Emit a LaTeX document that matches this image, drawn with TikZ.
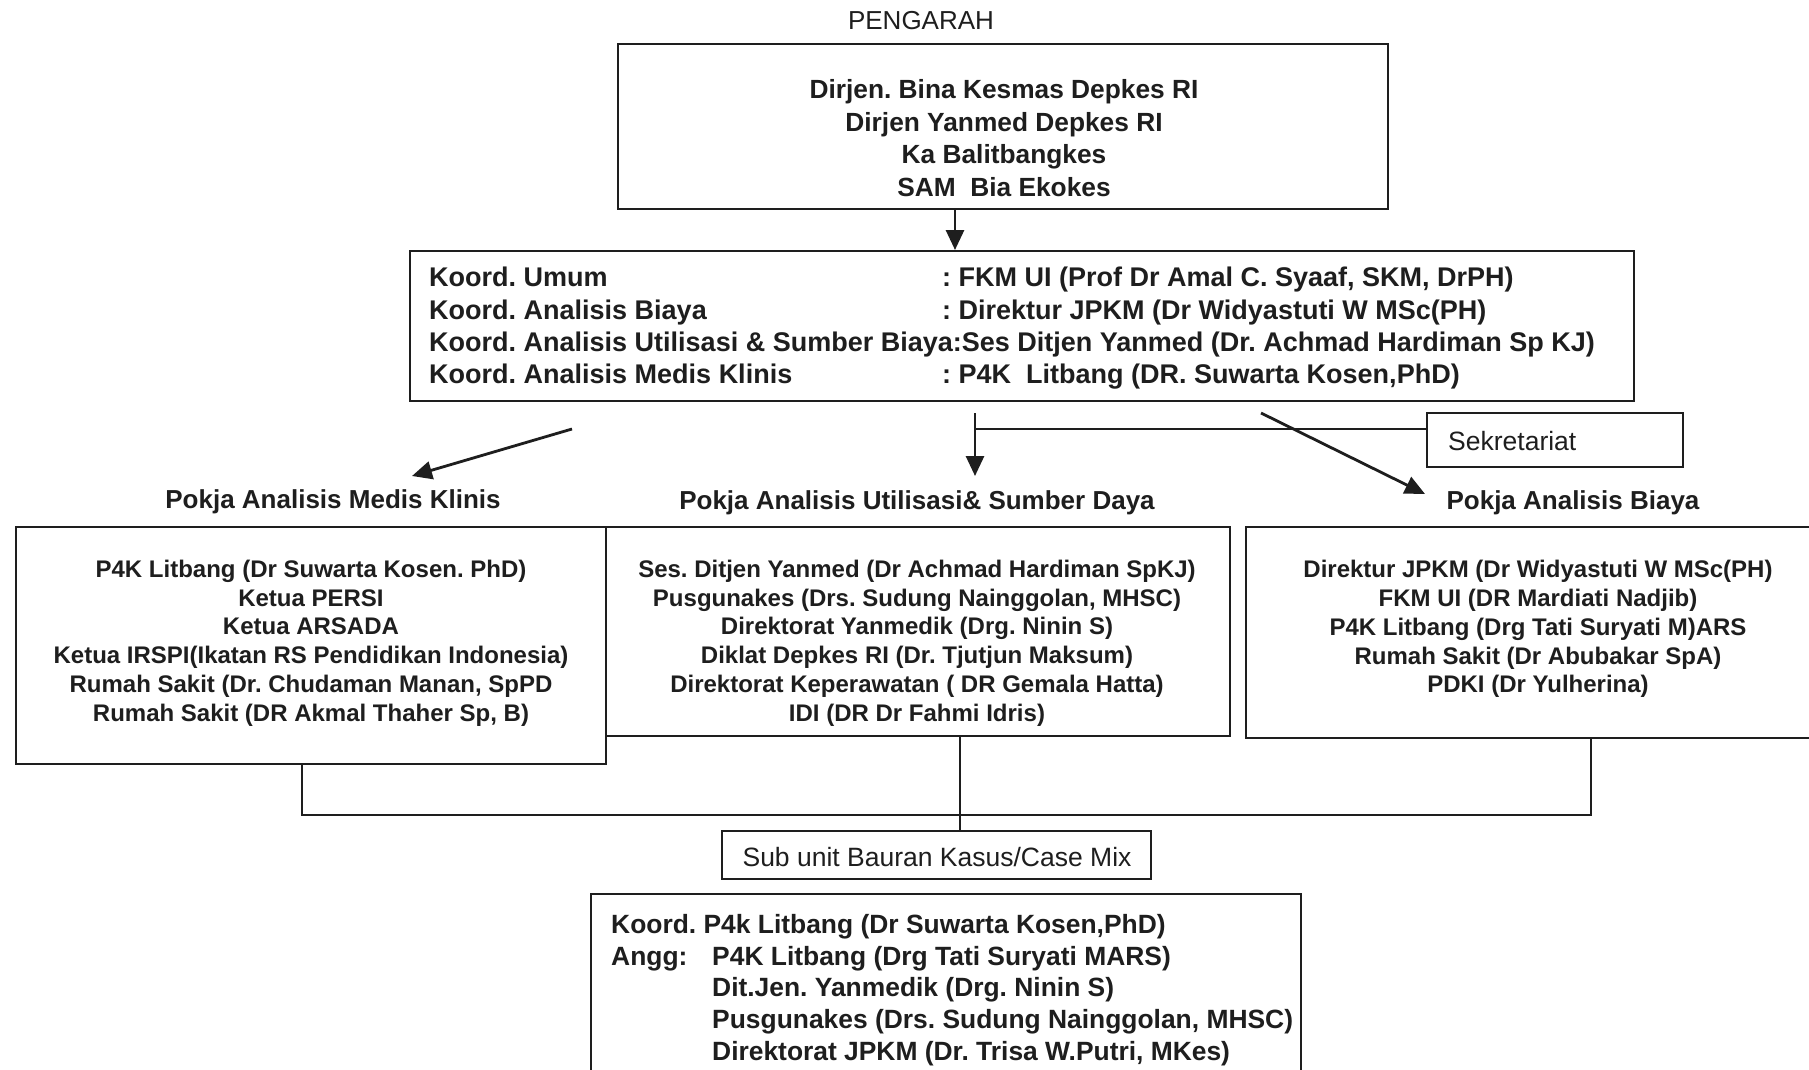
\documentclass[tikz,border=0pt]{standalone}
\usepackage{fontspec}
\setmainfont{Liberation Sans}
\usetikzlibrary{arrows.meta}
\definecolor{ink}{RGB}{30,30,30}
\tikzset{
  box/.style={draw=ink, line width=2pt, inner sep=0pt},
  txt/.style={inner sep=0pt, text=ink, align=center},
  arr/.style={draw=ink, line width=2.8pt, -{Triangle[length=20pt,width=18pt]}},
  conn/.style={draw=ink, line width=2pt},
  fa/.style={font=\bfseries\fontsize{26.3}{32.5}\selectfont},
  fb/.style={font=\bfseries\fontsize{27}{32.3}\selectfont},
  fc/.style={font=\bfseries\fontsize{24}{28.8}\selectfont},
  flbl/.style={font=\bfseries\fontsize{26}{30}\selectfont},
  freg/.style={font=\fontsize{26.5}{30}\selectfont},
  fd/.style={font=\bfseries\fontsize{26.4}{31.75}\selectfont},
}
\begin{document}
\frenchspacing
\begin{tikzpicture}[x=1pt,y=-1pt]
\useasboundingbox[fill=white] (0,0) rectangle (1809,1070);

% top
\node[txt, font=\fontsize{26}{30}\selectfont] (pengarahlbl) at (921,21) {PENGARAH};
\node[box, minimum width=770pt, minimum height=165pt] (topbox) at (1003,126.5) {};
\node[txt, fa] (toptxt) at (1004,138) {Dirjen. Bina Kesmas Depkes RI\\Dirjen Yanmed Depkes RI\\Ka Balitbangkes\\SAM\ \ Bia Ekokes};

% koordinator box
\node[box, minimum width=1224pt, minimum height=150pt] (koordbox) at (1022,326) {};
\node[txt, fb, anchor=west, align=left] (koordtxt) at (429,328.5) {%
\makebox[513pt][l]{Koord. Umum}: FKM UI (Prof Dr Amal C. Syaaf, SKM, DrPH)\\
\makebox[513pt][l]{Koord. Analisis Biaya}: Direktur JPKM (Dr Widyastuti W MSc(PH)\\
Koord. Analisis Utilisasi \& Sumber Biaya:Ses Ditjen Yanmed (Dr. Achmad Hardiman Sp KJ)\\
\makebox[513pt][l]{Koord. Analisis Medis Klinis}: P4K\ \ Litbang (DR. Suwarta Kosen,PhD)};

\coordinate (xa) at (955,0);
\draw[arr] (topbox.south -| xa) -- (koordbox.north -| xa);

% sekretariat
\node[box, minimum width=256pt, minimum height=54pt] (sekbox) at (1555,440) {};
\node[txt, freg, anchor=west] (sektxt) at (1448,441) {Sekretariat};

% arrows to pokja
\coordinate (a1s) at (572,429);
\coordinate (a1e) at (412,476);
\coordinate (a2s) at (975,413);
\coordinate (a2j) at (975,429);
\coordinate (a2e) at (975,476);
\coordinate (a3s) at (1261,413);
\coordinate (a3e) at (1425,494);
\draw[arr] (a1s) -- (a1e);
\draw[arr] (a2s) -- (a2e);
\draw[conn] (a2j) -- (a2j -| sekbox.west);
\draw[arr] (a3s) -- (a3e);

% pokja labels
\node[txt, flbl] (lblmedis) at (333,502) {Pokja Analisis Medis Klinis};
\node[txt, flbl] (lblutil) at (917,503) {Pokja Analisis Utilisasi\& Sumber Daya};
\node[txt, flbl] (lblbiaya) at (1573,503) {Pokja Analisis Biaya};

% pokja boxes
\node[box, minimum width=590pt, minimum height=237pt] (medisbox) at (311,645.5) {};
\node[box, minimum width=624pt, minimum height=209pt] (utilbox) at (918,631.5) {};
\node[box, minimum width=584pt, minimum height=211pt] (biayabox) at (1538,632.5) {};

\node[txt, fc] (medistxt) at (311,643) {P4K Litbang (Dr Suwarta Kosen. PhD)\\Ketua PERSI\\Ketua ARSADA\\Ketua IRSPI(Ikatan RS Pendidikan Indonesia)\\Rumah Sakit (Dr. Chudaman Manan, SpPD\\Rumah Sakit (DR Akmal Thaher Sp, B)};
\node[txt, fc] (utiltxt) at (917,643) {Ses. Ditjen Yanmed (Dr Achmad Hardiman SpKJ)\\Pusgunakes (Drs. Sudung Nainggolan, MHSC)\\Direktorat Yanmedik (Drg. Ninin S)\\Diklat Depkes RI (Dr. Tjutjun Maksum)\\Direktorat Keperawatan ( DR Gemala Hatta)\\IDI (DR Dr Fahmi Idris)};
\node[txt, fc] (biayatxt) at (1538,629) {Direktur JPKM (Dr Widyastuti W MSc(PH)\\FKM UI (DR Mardiati Nadjib)\\P4K Litbang (Drg Tati Suryati M)ARS\\Rumah Sakit (Dr Abubakar SpA)\\PDKI (Dr Yulherina)};

% sub unit
\node[box, minimum width=429pt, minimum height=48pt] (subbox) at (936.5,855) {};
\node[txt, freg] (subtxt) at (937,857) {Sub unit Bauran Kasus/Case Mix};

\coordinate (lx) at (302,815);
\coordinate (rx) at (1591,815);
\coordinate (mx) at (960,0);
\draw[conn] (medisbox.south -| lx) -- (lx) -- (rx) -- (biayabox.south -| rx);
\draw[conn] (utilbox.south -| mx) -- (subbox.north -| mx);

% bottom box
\node[box, minimum width=710pt, minimum height=196pt] (botbox) at (946,992) {};
\node[txt, fd, anchor=west, align=left] (bottxt) at (611,990) {%
Koord. P4k Litbang (Dr Suwarta Kosen,PhD)\\
\makebox[101pt][l]{Angg:}P4K Litbang (Drg Tati Suryati MARS)\\
\hspace*{101pt}Dit.Jen. Yanmedik (Drg. Ninin S)\\
\hspace*{101pt}Pusgunakes (Drs. Sudung Nainggolan, MHSC)\\
\hspace*{101pt}Direktorat JPKM (Dr. Trisa W.Putri, MKes)};
\end{tikzpicture}
\end{document}
